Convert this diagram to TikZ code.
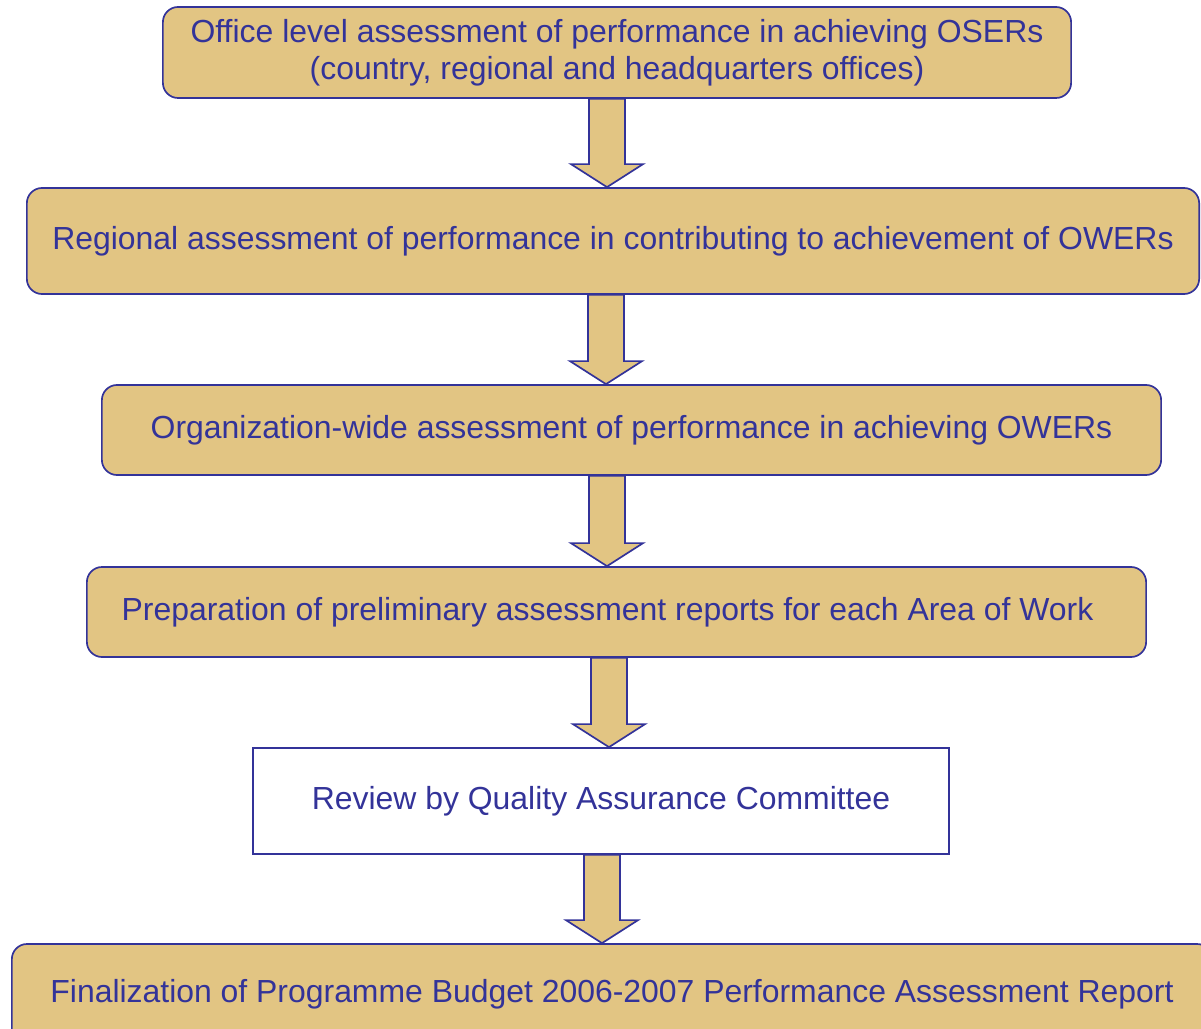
\documentclass[tikz,border=0pt]{standalone}
\usepackage{fontspec}
\setmainfont{Liberation Sans}
\usetikzlibrary{calc}
\definecolor{stagefill}{HTML}{E2C583}
\definecolor{stageline}{HTML}{333399}

% block arrow from the bottom of #1 to the top of #2, shaft at x=#3
\newcommand{\flowarrow}[3]{%
  \coordinate (fa-x) at (#3,0);
  \coordinate (fa-s) at (fa-x |- #1.south);
  \coordinate (fa-e) at (fa-x |- #2.north);
  \draw[fat arrow] ($(fa-s)+(-18,0)$) -- ($(fa-e)+(-18,-23)$) -- ($(fa-e)+(-36,-23)$)
    -- (fa-e) -- ($(fa-e)+(36,-23)$) -- ($(fa-e)+(18,-23)$) -- ($(fa-s)+(18,0)$) -- cycle;}

\begin{document}
\begin{tikzpicture}[x=0.025cm,y=-0.025cm]
		\tikzset{
			stage/.style=
			{draw=stageline,fill=stagefill,line width=1.2pt,rounded corners=0.38cm,
			 text=stageline,align=center,font=\fontsize{22.7}{26.5}\selectfont},
			review/.style=
			{stage,fill=white,rounded corners=0pt},
			fat arrow/.style=
			{draw=stageline,fill=stagefill,line width=1.2pt,line join=miter},
		}
		\useasboundingbox (0,0) rectangle (1201,1029);
		\node[stage,minimum width=22.7cm,minimum height=2.275cm] (office) at (617,52.5)
			{Office level assessment of performance in achieving OSERs\\(country, regional and headquarters offices)};
		\node[stage,minimum width=29.3cm,minimum height=2.65cm] (regional) at (613,241)
			{Regional assessment of performance in contributing to achievement of OWERs};
		\node[stage,minimum width=26.475cm,minimum height=2.25cm] (orgwide) at (631.5,430)
			{Organization-wide assessment of performance in achieving OWERs};
		\node[stage,minimum width=26.475cm,minimum height=2.25cm] (prelim) at (616.5,612)
			{\hspace*{-0.45cm}Preparation of preliminary assessment reports for each Area of Work};
		\node[review,minimum width=17.4cm,minimum height=2.65cm] (qac) at (601,801)
			{Review by Quality Assurance Committee};
		\node[stage,minimum width=30cm,minimum height=2.5cm] (final) at (612,994)
			{Finalization of Programme Budget 2006-2007 Performance Assessment Report};
		\flowarrow{office}{regional}{607}
		\flowarrow{regional}{orgwide}{606}
		\flowarrow{orgwide}{prelim}{607}
		\flowarrow{prelim}{qac}{609}
		\flowarrow{qac}{final}{602}
\end{tikzpicture}
\end{document}
